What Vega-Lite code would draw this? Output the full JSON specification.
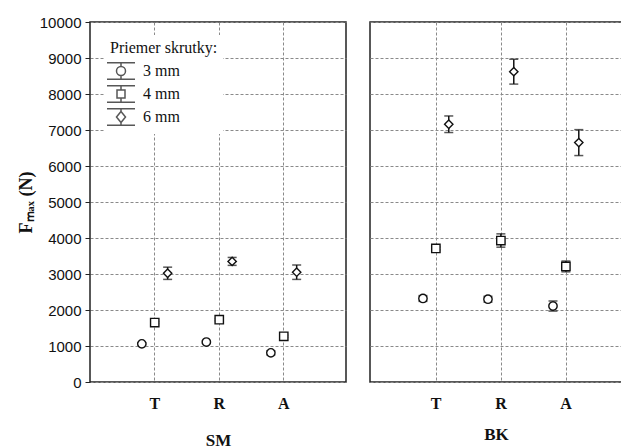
{
  "$schema": "https://vega.github.io/schema/vega-lite/v6.json",
  "background": "white",
  "padding": {"left": 16, "top": 14, "right": 0, "bottom": 0},
  "spacing": 22,
  "config": {
    "view": {"stroke": "#222", "strokeWidth": 1.5},
    "axis": {
      "gridColor": "#8a8a8a",
      "gridDash": [3, 2],
      "gridWidth": 1,
      "domain": false
    }
  },
  "data": {
    "values": [
      {"panel": "SM", "load": "T", "size": "3 mm", "F": 1060, "lo": 1030, "hi": 1090},
      {"panel": "SM", "load": "T", "size": "4 mm", "F": 1650, "lo": 1620, "hi": 1680},
      {"panel": "SM", "load": "T", "size": "6 mm", "F": 3020, "lo": 2850, "hi": 3190},
      {"panel": "SM", "load": "R", "size": "3 mm", "F": 1110, "lo": 1080, "hi": 1140},
      {"panel": "SM", "load": "R", "size": "4 mm", "F": 1730, "lo": 1700, "hi": 1760},
      {"panel": "SM", "load": "R", "size": "6 mm", "F": 3350, "lo": 3240, "hi": 3460},
      {"panel": "SM", "load": "A", "size": "3 mm", "F": 810, "lo": 750, "hi": 870},
      {"panel": "SM", "load": "A", "size": "4 mm", "F": 1270, "lo": 1240, "hi": 1300},
      {"panel": "SM", "load": "A", "size": "6 mm", "F": 3050, "lo": 2850, "hi": 3250},
      {"panel": "BK", "load": "T", "size": "3 mm", "F": 2320, "lo": 2240, "hi": 2400},
      {"panel": "BK", "load": "T", "size": "4 mm", "F": 3710, "lo": 3670, "hi": 3750},
      {"panel": "BK", "load": "T", "size": "6 mm", "F": 7160, "lo": 6930, "hi": 7390},
      {"panel": "BK", "load": "R", "size": "3 mm", "F": 2300, "lo": 2220, "hi": 2380},
      {"panel": "BK", "load": "R", "size": "4 mm", "F": 3930, "lo": 3745, "hi": 4115},
      {"panel": "BK", "load": "R", "size": "6 mm", "F": 8620, "lo": 8275, "hi": 8965},
      {"panel": "BK", "load": "A", "size": "3 mm", "F": 2110, "lo": 1970, "hi": 2250},
      {"panel": "BK", "load": "A", "size": "4 mm", "F": 3210, "lo": 3060, "hi": 3360},
      {"panel": "BK", "load": "A", "size": "6 mm", "F": 6650, "lo": 6290, "hi": 7010}
    ]
  },
  "resolve": {"scale": {"shape": "independent"}, "legend": {"shape": "independent"}},
  "hconcat": [
    {
      "width": 256,
      "height": 360,
      "transform": [{"filter": "datum.panel === 'SM'"}],
      "encoding": {
        "x": {
          "field": "load", "type": "nominal", "sort": ["T", "R", "A"],
          "scale": {"paddingInner": 0, "paddingOuter": 0.484, "align": 0.52},
          "axis": {
            "title": "SM", "titleFont": "Liberation Serif", "titleFontWeight": "bold", "titleFontSize": 17, "titleColor": "#111", "titlePadding": 21,
            "labelAngle": 0, "labelFont": "Liberation Serif", "labelFontWeight": "bold", "labelFontSize": 16, "labelColor": "#111", "labelPadding": 13,
            "ticks": false, "grid": true, "bandPosition": 0.5
          }
        },
        "xOffset": {"field": "size", "type": "nominal", "scale": {"paddingInner": 0, "paddingOuter": 1.7}},
        "y": {
          "field": "F", "type": "quantitative",
          "scale": {"domain": [0, 10000], "nice": false},
          "axis": {
            "title": "Fₘₐₓ (N)", "titleFont": "Liberation Serif", "titleFontWeight": "bold", "titleFontSize": 18, "titleColor": "#111", "titlePadding": 4,
            "values": [0, 1000, 2000, 3000, 4000, 5000, 6000, 7000, 8000, 9000, 10000],
            "format": "d", "labelFont": "Liberation Sans", "labelFontSize": 15, "labelColor": "#111", "labelPadding": 4,
            "tickSize": 5, "tickColor": "#222", "grid": true
          }
        }
      },
      "resolve": {"scale": {"shape": "independent"}, "legend": {"shape": "independent"}},
      "layer": [
        {"mark": {"type": "rule", "color": "#111", "strokeWidth": 1.5}, "encoding": {"y": {"field": "lo", "type": "quantitative"}, "y2": {"field": "hi"}}},
        {"mark": {"type": "tick", "color": "#111", "thickness": 1.5, "size": 9}, "encoding": {"y": {"field": "lo", "type": "quantitative"}}},
        {"mark": {"type": "tick", "color": "#111", "thickness": 1.5, "size": 9}, "encoding": {"y": {"field": "hi", "type": "quantitative"}}},
        {
          "mark": {"type": "point", "filled": false, "fill": "white", "fillOpacity": 1, "stroke": "#111", "strokeWidth": 1.4, "size": 70, "opacity": 1},
          "encoding": {
            "shape": {
              "field": "size", "type": "nominal",
              "scale": {"domain": ["3 mm", "4 mm", "6 mm"], "range": ["circle", "square", "diamond"]},
              "legend": null
            }
          }
        },
        {
          "transform": [{"filter": "datum.F < 0"}],
          "mark": {"type": "point", "filled": false, "color": "#111", "strokeWidth": 1.6, "size": 400},
          "encoding": {
            "shape": {
              "field": "size", "type": "nominal",
              "scale": {
                "domain": ["3 mm", "4 mm", "6 mm"],
                "range": [
                  "M-1.4,-0.83H1.4M0,-0.83V-0.45M0,0.45V0.83M-1.4,0.83H1.4M0.45,0A0.45,0.45 0 1,1 -0.45,0A0.45,0.45 0 1,1 0.45,0Z",
                  "M-1.4,-0.83H1.4M0,-0.83V-0.4M0,0.4V0.83M-1.4,0.83H1.4M-0.4,-0.4H0.4V0.4H-0.4Z",
                  "M-1.4,-0.83H1.4M0,-0.83V-0.55M0,0.55V0.83M-1.4,0.83H1.4M0,-0.55L0.45,0L0,0.55L-0.45,0Z"
                ]
              },
              "legend": {
                "title": "Priemer skrutky:", "orient": "none", "legendX": 15, "legendY": 13,
                "fillColor": "white", "padding": 5,
                "titleFont": "Liberation Serif", "titleFontSize": 16, "titleFontWeight": "normal", "titleColor": "#111", "titlePadding": 4,
                "labelFont": "Liberation Serif", "labelFontSize": 16, "labelColor": "#111", "labelOffset": 11,
                "symbolSize": 400, "rowPadding": -2.5
              }
            }
          }
        }
      ]
    },
    {
      "width": 252,
      "height": 360,
      "transform": [{"filter": "datum.panel === 'BK'"}],
      "encoding": {
        "x": {
          "field": "load", "type": "nominal", "sort": ["T", "R", "A"],
          "scale": {"paddingInner": 0, "paddingOuter": 0.438, "align": 0.59},
          "axis": {
            "title": "BK", "titleFont": "Liberation Serif", "titleFontWeight": "bold", "titleFontSize": 17, "titleColor": "#111", "titlePadding": 15,
            "labelAngle": 0, "labelFont": "Liberation Serif", "labelFontWeight": "bold", "labelFontSize": 16, "labelColor": "#111", "labelPadding": 13,
            "ticks": false, "grid": true, "bandPosition": 0.5
          }
        },
        "xOffset": {"field": "size", "type": "nominal", "scale": {"paddingInner": 0, "paddingOuter": 1.7}},
        "y": {
          "field": "F", "type": "quantitative",
          "scale": {"domain": [0, 10000], "nice": false},
          "axis": {
            "title": null, "labels": false, "ticks": false, "grid": true,
            "values": [0, 1000, 2000, 3000, 4000, 5000, 6000, 7000, 8000, 9000, 10000]
          }
        }
      },
      "layer": [
        {"mark": {"type": "rule", "color": "#111", "strokeWidth": 1.5}, "encoding": {"y": {"field": "lo", "type": "quantitative"}, "y2": {"field": "hi"}}},
        {"mark": {"type": "tick", "color": "#111", "thickness": 1.5, "size": 9}, "encoding": {"y": {"field": "lo", "type": "quantitative"}}},
        {"mark": {"type": "tick", "color": "#111", "thickness": 1.5, "size": 9}, "encoding": {"y": {"field": "hi", "type": "quantitative"}}},
        {
          "mark": {"type": "point", "filled": false, "fill": "white", "fillOpacity": 1, "stroke": "#111", "strokeWidth": 1.4, "size": 70, "opacity": 1},
          "encoding": {
            "shape": {
              "field": "size", "type": "nominal",
              "scale": {"domain": ["3 mm", "4 mm", "6 mm"], "range": ["circle", "square", "diamond"]},
              "legend": null
            }
          }
        }
      ]
    }
  ]
}
